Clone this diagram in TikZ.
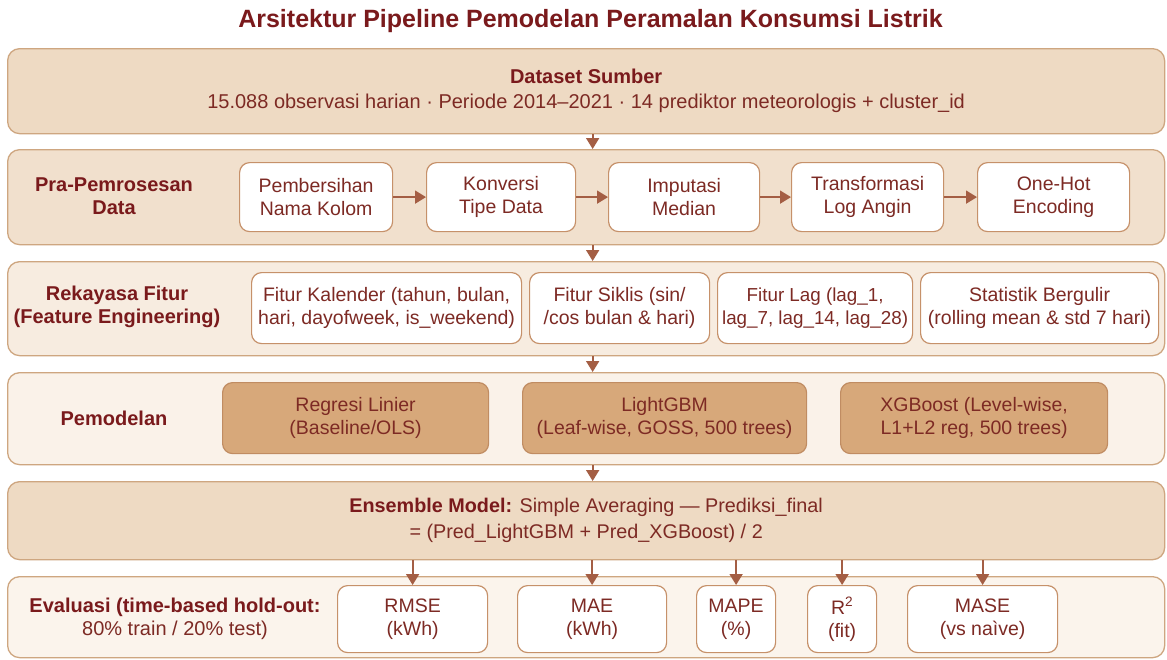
\documentclass[tikz,border=0pt]{standalone}
\usepackage{fontspec}
\setmainfont{Liberation Sans}
\usetikzlibrary{arrows.meta}
\definecolor{pA}{RGB}{238,218,195}
\definecolor{pB}{RGB}{241,224,205}
\definecolor{pC}{RGB}{247,236,224}
\definecolor{pD}{RGB}{250,242,233}
\definecolor{pE}{RGB}{251,244,236}
\definecolor{pborder}{RGB}{206,166,128}
\definecolor{bborder}{RGB}{198,145,106}
\definecolor{mfill}{RGB}{215,168,122}
\definecolor{mborder}{RGB}{192,140,98}
\definecolor{lbltxt}{RGB}{122,26,28}
\definecolor{txt}{RGB}{125,42,36}
\definecolor{arrc}{RGB}{164,94,68}
\tikzset{
  panel/.style={draw=pborder, line width=1.3pt, rounded corners=12pt, anchor=north west, inner sep=0pt, align=center, text=txt, font=\fontsize{20}{25}\selectfont},
  wbox/.style={draw=bborder, fill=white, line width=1.2pt, rounded corners=10pt, anchor=north west, inner sep=0pt, align=center, text=txt, font=\fontsize{19.5}{23}\selectfont},
  mbox/.style={wbox, fill=mfill, draw=mborder},
  lbl/.style={text=lbltxt, font=\fontsize{20}{23}\selectfont\bfseries, align=center},
  arr/.style={draw=arrc, line width=1.8pt, -{Triangle[width=13pt,length=11pt]}}
}
\begin{document}
\begin{tikzpicture}[x=1pt,y=-1pt]
\useasboundingbox (0,0) rectangle (1167,659);
\fill[white] (0,0) rectangle (1167,659);
% title
\node[anchor=base, text=lbltxt, font=\fontsize{25}{28}\selectfont\bfseries] (title) at (590.5,27) {Arsitektur Pipeline Pemodelan Peramalan Konsumsi Listrik};
% panels
\node[panel, fill=pA, minimum width=1157pt, minimum height=85pt] (p1) at (7,48)
  {{\color{lbltxt}\bfseries Dataset Sumber}\\15.088 observasi harian · Periode 2014–2021 · 14 prediktor meteorologis + cluster\_id};
\node[panel, fill=pB, minimum width=1157pt, minimum height=95pt] (p2) at (7,149) {};
\node[panel, fill=pC, minimum width=1157pt, minimum height=94pt] (p3) at (7,261) {};
\node[panel, fill=pD, minimum width=1157pt, minimum height=92pt] (p4) at (7,372) {};
\node[panel, fill=pA, minimum width=1157pt, minimum height=78pt, font=\fontsize{19.8}{26}\selectfont] (p5) at (7,481)
  {{\color{lbltxt}\bfseries Ensemble Model:} Simple Averaging — Prediksi\_final\\= (Pred\_LightGBM + Pred\_XGBoost) / 2};
\node[panel, fill=pE, minimum width=1157pt, minimum height=81pt] (p6) at (7,576) {};
% labels
\node[lbl] (l2) at (114,196.5) {Pra-Pemrosesan\\Data};
\node[lbl] (l3) at (117,307) {Rekayasa Fitur\\(Feature Engineering)};
\node[lbl] (l4) at (114,418) {Pemodelan};
\node[lbl] (l6) at (175,618.5) {Evaluasi (time-based hold-out:\\{\mdseries\color{txt}80\% train / 20\% test)}};
% row 2
\node[wbox, minimum width=153pt, minimum height=69pt] (b1) at (239,162) {Pembersihan\\Nama Kolom};
\node[wbox, minimum width=149pt, minimum height=69pt] (b2) at (426,162) {Konversi\\Tipe Data};
\node[wbox, minimum width=151pt, minimum height=69pt] (b3) at (608,162) {Imputasi\\Median};
\node[wbox, minimum width=152pt, minimum height=69pt] (b4) at (791,162) {Transformasi\\Log Angin};
\node[wbox, minimum width=152pt, minimum height=69pt] (b5) at (977,162) {One-Hot\\Encoding};
% row 3
\node[wbox, minimum width=270pt, minimum height=71pt] (f1) at (251,272) {Fitur Kalender (tahun, bulan,\\hari, dayofweek, is\_weekend)};
\node[wbox, minimum width=180pt, minimum height=71pt] (f2) at (529,272) {Fitur Siklis (sin/\\/cos bulan \& hari)};
\node[wbox, minimum width=195pt, minimum height=71pt, font=\fontsize{18.8}{23}\selectfont] (f3) at (717,272) {Fitur Lag (lag\_1,\\lag\_7, lag\_14, lag\_28)};
\node[wbox, minimum width=238pt, minimum height=71pt] (f4) at (920,272) {Statistik Bergulir\\(rolling mean \& std 7 hari)};
% row 4
\node[mbox, minimum width=266pt, minimum height=71pt] (m1) at (222,382) {Regresi Linier\\(Baseline/OLS)};
\node[mbox, minimum width=284pt, minimum height=71pt] (m2) at (522,382) {LightGBM\\(Leaf-wise, GOSS, 500 trees)};
\node[mbox, minimum width=267pt, minimum height=71pt] (m3) at (840,382) {XGBoost (Level-wise,\\L1+L2 reg, 500 trees)};
% row 6
\node[wbox, minimum width=150pt, minimum height=67pt] (e1) at (337,585) {RMSE\\(kWh)};
\node[wbox, minimum width=149pt, minimum height=67pt] (e2) at (517,585) {MAE\\(kWh)};
\node[wbox, minimum width=79pt, minimum height=67pt] (e3) at (696,585) {MAPE\\(\%)};
\node[wbox, minimum width=69pt, minimum height=67pt] (e4) at (807,585) {R\textsuperscript{2}\\(fit)};
\node[wbox, minimum width=150pt, minimum height=67pt] (e5) at (907,585) {MASE\\(vs naìve)};
% panel arrows
\draw[arr] ([xshift=6.5pt]p1.south) -- ([xshift=6.5pt]p2.north);
\draw[arr] ([xshift=6.5pt]p2.south) -- ([xshift=6.5pt]p3.north);
\draw[arr] ([xshift=6.5pt]p3.south) -- ([xshift=6.5pt]p4.north);
\draw[arr] ([xshift=6.5pt]p4.south) -- ([xshift=6.5pt]p5.north);
% row 2 arrows
\draw[arr] (b1.east) -- (b2.west);
\draw[arr] (b2.east) -- (b3.west);
\draw[arr] (b3.east) -- (b4.west);
\draw[arr] (b4.east) -- (b5.west);
% ensemble to metrics
\foreach \e in {e1,e2,e3,e4,e5}
  \draw[arr] (p5.south -| \e.north) -- (\e.north);
\end{tikzpicture}
\end{document}
